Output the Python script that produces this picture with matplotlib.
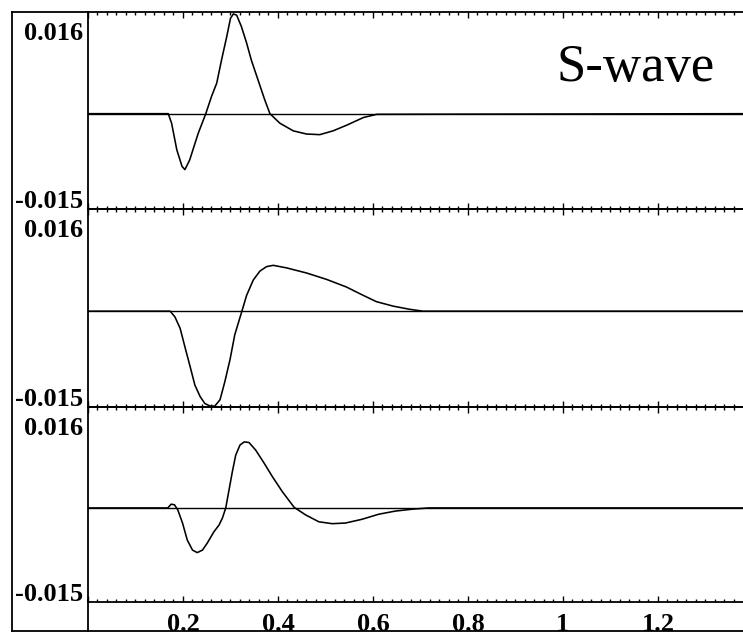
import matplotlib
matplotlib.use("Agg")
import matplotlib.pyplot as plt
from matplotlib.ticker import MultipleLocator
from matplotlib.lines import Line2D

# --- data -------------------------------------------------------------
t1 = [0.0, 0.169, 0.176, 0.187, 0.198, 0.204, 0.214, 0.232, 0.248, 0.260,
      0.271, 0.281, 0.292, 0.300, 0.306, 0.313, 0.323, 0.334, 0.344, 0.358,
      0.372, 0.383, 0.404, 0.432, 0.460, 0.488, 0.516, 0.545, 0.580, 0.608, 1.40]
a1 = [0.0, 0.0, -0.0015, -0.0057, -0.0083, -0.0088, -0.0073, -0.0031, 0.0, 0.0027,
      0.0048, 0.0084, 0.0121, 0.0150, 0.0157, 0.0155, 0.0137, 0.0111, 0.0084, 0.0053,
      0.0022, 0.0, -0.0015, -0.0027, -0.0032, -0.0033, -0.0027, -0.0018, -0.0006, -0.0001, 0.0]

t2 = [0.0, 0.173, 0.183, 0.194, 0.204, 0.215, 0.225, 0.236, 0.246, 0.257,
      0.267, 0.278, 0.288, 0.299, 0.309, 0.324, 0.334, 0.348, 0.362, 0.376,
      0.390, 0.418, 0.460, 0.502, 0.544, 0.579, 0.607, 0.642, 0.677, 0.705, 1.40]
a2 = [0.0, 0.0, -0.0009, -0.0027, -0.0056, -0.0087, -0.0116, -0.0134, -0.0145, -0.0149,
      -0.0149, -0.0139, -0.0111, -0.0076, -0.0037, 0.0, 0.0025, 0.0049, 0.0063, 0.0070,
      0.0072, 0.0068, 0.0060, 0.0050, 0.0038, 0.0025, 0.0015, 0.0008, 0.0003, 0.0, 0.0]

t3 = [0.0, 0.168, 0.175, 0.182, 0.189, 0.199, 0.209, 0.220, 0.230, 0.241,
      0.251, 0.265, 0.276, 0.283, 0.290, 0.297, 0.304, 0.311, 0.320, 0.329,
      0.339, 0.353, 0.371, 0.388, 0.409, 0.434, 0.458, 0.486, 0.514, 0.542,
      0.577, 0.612, 0.647, 0.682, 0.717, 0.752, 1.40]
a3 = [0.0, 0.0, 0.0006, 0.0005, -0.0003, -0.0024, -0.0051, -0.0067, -0.0071, -0.0067,
      -0.0056, -0.0038, -0.0027, -0.0016, 0.0, 0.0029, 0.0058, 0.0084, 0.0100, 0.0105,
      0.0104, 0.0092, 0.0071, 0.0050, 0.0026, 0.0001, -0.0011, -0.0022, -0.0025, -0.0024,
      -0.0018, -0.0010, -0.0005, -0.0002, 0.0, 0.0, 0.0]

y_min, y_max = -0.015, 0.016
y_labels = ["0.016", "-0.015"]
x_ticks = [0.2, 0.4, 0.6, 0.8, 1.0, 1.2]
x_labels = ["0.2", "0.4", "0.6", "0.8", "1", "1.2"]
x_max = 1.379
title = "S-wave"

# --- figure -----------------------------------------------------------
W, H = 743, 638
fig = plt.figure(figsize=(W / 100, H / 100), dpi=100)

label_font = dict(family="Liberation Serif", weight="bold", size=19)

# panel extents in pixels: (top, bottom)
panels = [(12, 209), (209.3, 406.7), (407.3, 602.3)]
left_px = 88
series = [(t1, a1), (t2, a2), (t3, a3)]

# outer frame drawn in pixel coordinates
frame = fig.add_axes([0, 0, 1, 1], zorder=0)
frame.set_xlim(0, W)
frame.set_ylim(H, 0)
frame.axis("off")
lw_frame = 1.3
frame.add_line(Line2D([12, 12], [12, 631], color="black", lw=lw_frame))
frame.add_line(Line2D([12, left_px], [12, 12], color="black", lw=lw_frame))
frame.add_line(Line2D([12, W], [631, 631], color="black", lw=lw_frame))
frame.add_line(Line2D([left_px, left_px], [600, 631], color="black", lw=lw_frame))

axes = []
for i, ((top, bot), (t, a)) in enumerate(zip(panels, series)):
    ax = fig.add_axes([left_px / W, 1 - bot / H, (W - left_px) / W, (bot - top) / H],
                      zorder=1)
    ax.patch.set_alpha(0)
    ax.plot(t, a, color="black", lw=1.15, solid_joinstyle="round")
    ax.axhline(0, color="black", lw=1.0)
    ax.set_xlim(0, x_max)
    ax.set_ylim(y_min, y_max)
    ax.spines["right"].set_visible(False)
    for s in ("left", "top", "bottom"):
        ax.spines[s].set_linewidth(1.3)
    ax.set_yticks([])
    ax.xaxis.set_major_locator(MultipleLocator(0.2))
    ax.xaxis.set_minor_locator(MultipleLocator(0.02))
    ax.tick_params(axis="x", which="both", direction="in", top=True, bottom=True,
                   labelbottom=False, width=1.0)
    ax.tick_params(axis="x", which="major", length=4.3)
    ax.tick_params(axis="x", which="minor", length=2.3)
    # value range labels at the top and bottom of each panel
    ax.annotate(y_labels[0], xy=(0, 1), xycoords="axes fraction",
                xytext=(-5, -19), textcoords="offset pixels",
                ha="right", va="center_baseline", **label_font)
    ax.annotate(y_labels[1], xy=(0, 0), xycoords="axes fraction",
                xytext=(-5, 10), textcoords="offset pixels",
                ha="right", va="center_baseline", **label_font)
    axes.append(ax)

# x tick labels below the bottom panel
bottom_ax = axes[-1]
for xv, lab in zip(x_ticks, x_labels):
    bottom_ax.annotate(lab, xy=(xv, 0), xycoords=("data", "axes fraction"),
                       xytext=(0, -29), textcoords="offset pixels",
                       ha="center", va="baseline", **label_font)

axes[0].text((556 - left_px) / (W - left_px), (209 - 81) / 197, title,
             transform=axes[0].transAxes, ha="left", va="baseline",
             family="Liberation Serif", size=38)

fig.savefig("out.png", dpi=100)
